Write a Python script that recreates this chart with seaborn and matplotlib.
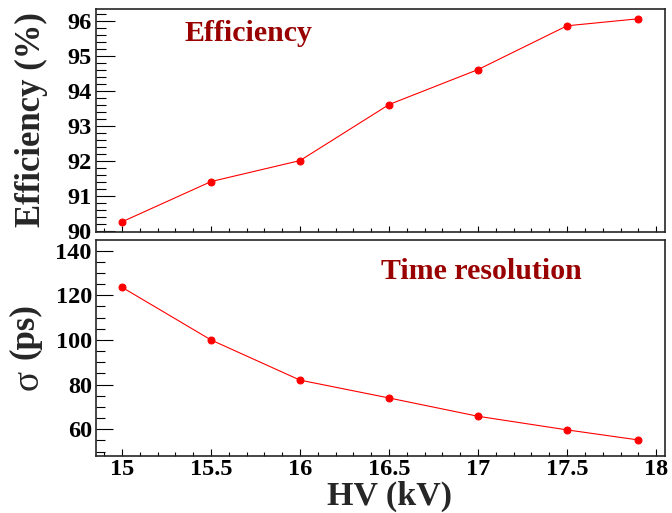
import matplotlib
matplotlib.use("Agg")
import matplotlib.pyplot as plt
from matplotlib.ticker import MultipleLocator, AutoMinorLocator, FuncFormatter
import pandas as pd
import seaborn as sns

hv = [15, 15.5, 16, 16.5, 17, 17.5, 17.9]
efficiency = [90.25, 91.4, 92.0, 93.6, 94.6, 95.85, 96.05]
sigma = [123.6, 100.0, 82.0, 74.0, 65.8, 59.7, 55.2]

df = pd.DataFrame({'hv': hv, 'eff': efficiency, 'sigma': sigma})

sns.set_style("ticks")
plt.rcParams['font.family'] = ['Liberation Serif', 'DejaVu Serif']
plt.rcParams['font.weight'] = 'bold'

fig = plt.figure(figsize=(6.72, 5.13), dpi=100)
ax1 = fig.add_axes([0.1429, 0.5478, 0.8467, 0.4347])
ax2 = fig.add_axes([0.1429, 0.1111, 0.8467, 0.4211])

for ax, col in [(ax1, 'eff'), (ax2, 'sigma')]:
    sns.lineplot(data=df, x='hv', y=col, ax=ax, color='red', linewidth=0.8,
                 marker='o', markersize=5, markeredgecolor='red')
    ax.set_xlim(14.854, 18.05)
    ax.xaxis.set_major_locator(MultipleLocator(0.5))
    ax.xaxis.set_minor_locator(AutoMinorLocator(5))
    ax.xaxis.set_major_formatter(FuncFormatter(lambda v, p: f'{v:g}'))
    ax.set_xlabel('')
    ax.set_ylabel('')
    for s in ax.spines.values():
        s.set_linewidth(1.2)
        s.set_visible(True)
    ax.tick_params(which='both', direction='in', colors='black', width=0.8,
                   labelsize=17.5, top=False, right=False)
    ax.tick_params(axis='y', pad=3)
    ax.tick_params(axis='x', pad=2)

# top panel
ax1.set_ylim(89.96, 96.33)
ax1.yaxis.set_major_locator(MultipleLocator(1))
ax1.yaxis.set_minor_locator(AutoMinorLocator(5))
ax1.tick_params(axis='y', which='major', length=13.5)
ax1.tick_params(axis='y', which='minor', length=7)
ax1.tick_params(axis='x', which='major', length=4.5)
ax1.tick_params(axis='x', which='minor', length=2.8)
ax1.tick_params(axis='x', labelbottom=False)
ax1.text(0.268, 0.892, 'Efficiency', transform=ax1.transAxes, color='#990000',
         fontsize=21.5, fontweight='bold', ha='center', va='center')

# bottom panel
ax2.set_ylim(48, 144.8)
ax2.yaxis.set_major_locator(MultipleLocator(20))
ax2.yaxis.set_minor_locator(AutoMinorLocator(4))
ax2.tick_params(axis='y', which='major', length=12.2)
ax2.tick_params(axis='y', which='minor', length=6.5)
ax2.tick_params(axis='x', which='major', length=5)
ax2.tick_params(axis='x', which='minor', length=2.9)
ax2.text(0.678, 0.853, 'Time resolution', transform=ax2.transAxes, color='#990000',
         fontsize=21.5, fontweight='bold', ha='center', va='center')

for ax in (ax1, ax2):
    for lab in ax.get_xticklabels() + ax.get_yticklabels():
        lab.set_fontweight('bold')

fig.text(31 / 672, 1 - 120 / 513, 'Efficiency (%)', rotation=90, fontsize=25,
         fontweight='bold', ha='center', va='center')
fig.text(28 / 672, 1 - 380 / 513, 'σ', rotation=90, fontsize=27,
         fontweight='normal', ha='center', va='center')
fig.text(25 / 672, 1 - 331 / 513, '(ps)', rotation=90, fontsize=25,
         fontweight='bold', ha='center', va='center')
fig.text(389 / 672, 1 - 505 / 513, 'HV (kV)', fontsize=24.5,
         fontweight='bold', ha='center', va='baseline')

fig.savefig('out.png', dpi=100)
